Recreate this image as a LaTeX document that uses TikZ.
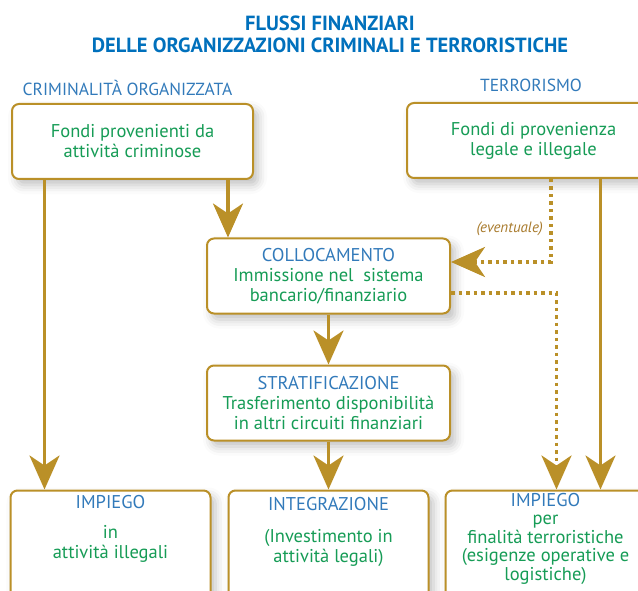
\documentclass[tikz,border=0pt]{standalone}
\usepackage{fontspec}
\setmainfont{PT Sans}
\usetikzlibrary{arrows.meta}
\usetikzlibrary{positioning}
\usetikzlibrary{shadows.blur}
\definecolor{gold}{RGB}{186,144,40}
\definecolor{hblue}{RGB}{50,122,186}
\definecolor{tblue}{RGB}{0,112,188}
\definecolor{tgreen}{RGB}{22,156,86}
\definecolor{note}{RGB}{168,122,44}
\tikzset{x=1pt, y=1pt, >={Stealth[length=34pt, width=30pt, inset=10pt]}, font=\fontsize{18.5}{20}\selectfont}
\tikzstyle{block} = [draw=gold, line width=2pt, fill=white, rectangle, rounded corners=7pt, minimum height=75pt, minimum width=243pt, text=tgreen, align=center, blur shadow={shadow xshift=5pt, shadow yshift=-6pt, shadow opacity=25, shadow blur radius=9pt}]
\tikzstyle{outbox} = [block, anchor=north, minimum height=0pt, minimum width=200pt, inner ysep=7pt, text depth=70pt]
\tikzstyle{head} = [text=hblue, font=\fontsize{17.5}{20}\selectfont]
\tikzstyle{flow} = [->, draw=gold, line width=3.3pt]
\tikzstyle{maybe} = [flow, line width=3.5pt, dash pattern=on 3.5pt off 4pt]
\newcommand{\phase}[1]{{\color{hblue}#1}}

\begin{document}
\begin{tikzpicture}
		\useasboundingbox (0,0) rectangle (638,-591);
		\clip (0,0) rectangle (638,-591);

		\node [text=tblue, align=center, font=\bfseries\fontsize{20.5}{22}\selectfont] (title) at (330,-34) {FLUSSI FINANZIARI\\DELLE ORGANIZZAZIONI CRIMINALI E TERRORISTICHE};
		\node [head] (crim) at (127.5,-88) {CRIMINALITÀ ORGANIZZATA};
		\node [head] (terr) at (531,-85) {TERRORISMO};

		\node [block, minimum width=241pt] (fondi_c) at (132.5,-141.5) {Fondi provenienti da\\attività criminose};
		\node [block, minimum width=253pt] (fondi_t) at (533.5,-140.5) {Fondi di provenienza\\legale e illegale};

		\node [block] (coll) at (328.5,-276) {\phase{COLLOCAMENTO}\\Immissione nel~ sistema\\bancario/finanziario};
		\node [block, below=50pt of coll] (strat) {\phase{STRATIFICAZIONE}\\Trasferimento disponibilità\\in altri circuiti finanziari};

		\node [outbox, below=48pt of strat] (integr) {\phase{INTEGRAZIONE}\\[12pt](Investimento in\\attività legali)};
		\node [outbox, anchor=north east, inner ysep=5pt] (imp_c) at ([xshift=-16pt]integr.north west) {\phase{IMPIEGO}\\[10pt]in\\attività illegali};
		\node [outbox, anchor=north west, font=\fontsize{18.5}{18.6}\selectfont, inner ysep=2.5pt] (imp_t) at ([xshift=15pt]integr.north east) {\phase{IMPIEGO}\\per\\finalità terroristiche\\(esigenze operative e\\logistiche)};

		\coordinate (c_in) at ([xshift=35pt]imp_c.north west);
		\coordinate (coll_in) at ([xshift=22pt]coll.north west);
		\coordinate (t_out) at ([xshift=145pt]fondi_t.south west);
		\coordinate (t_dot) at ([xshift=112pt]imp_t.north west);
		\coordinate (t_in) at ([xshift=156pt]imp_t.north west);

		\draw [flow] (c_in |- fondi_c.south) -- (c_in);
		\draw [flow] (coll_in |- fondi_c.south) -- (coll_in);
		\draw [flow] (coll) -- (strat);
		\draw [flow] (strat) -- (integr);
		\draw [flow] (t_in |- fondi_t.south) -- (t_in);

		\draw [maybe] (t_out) |- node [pos=0.3, left, text=note, font=\itshape\fontsize{15}{17}\selectfont, xshift=-3pt] {(eventuale)} ([yshift=14pt]coll.east);
		\draw [maybe] ([yshift=-17pt]coll.east) -| (t_dot);

	\end{tikzpicture}
\end{document}
